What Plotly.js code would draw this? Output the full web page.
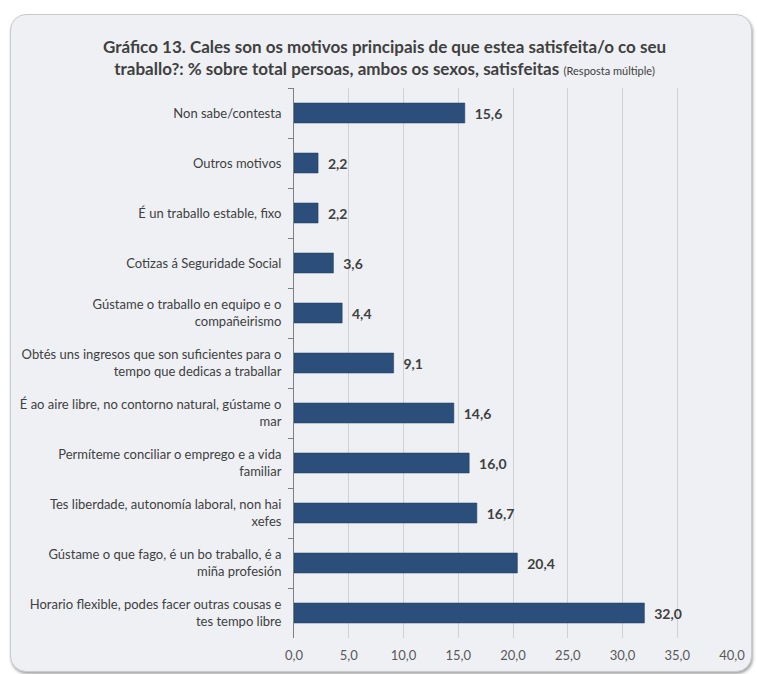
<!DOCTYPE html>
<html>
<head>
<meta charset="utf-8">
<script src="https://cdn.plot.ly/plotly-3.0.1.min.js"></script>
<style>
  html, body { margin: 0; padding: 0; background: #ffffff; }
  #frame { position: absolute; left: 10px; top: 14px; width: 740px; height: 656px;
           border-radius: 16px; background: #eef0f4; border: 1px solid #c9cbcf;
           box-shadow: 1px 2px 3px rgba(0,0,0,0.35); }
  #chart { position: absolute; left: 0; top: 0; width: 757px; height: 674px; }
</style>
</head>
<body>
<div id="frame"></div>
<div id="chart"></div>
<script>
const categories = [
  "Non sabe/contesta",
  "Outros motivos",
  "É un traballo estable, fixo",
  "Cotizas á Seguridade Social",
  "Gústame o traballo en equipo e o<br>compañeirismo",
  "Obtés uns ingresos que son suficientes para o<br>tempo que dedicas a traballar",
  "É ao aire libre, no contorno natural, gústame o<br>mar",
  "Permíteme conciliar o emprego e a vida<br>familiar",
  "Tes liberdade, autonomía laboral, non hai<br>xefes",
  "Gústame o que fago, é un bo traballo, é a<br>miña profesión",
  "Horario flexible, podes facer outras cousas e<br>tes tempo libre"
];
const values = [15.6, 2.2, 2.2, 3.6, 4.4, 9.1, 14.6, 16.0, 16.7, 20.4, 32.0];
const xTicks = [0, 5, 10, 15, 20, 25, 30, 35, 40];

const trace = {
  type: 'bar',
  orientation: 'h',
  y: categories,
  x: values,
  marker: { color: '#2b4f7a', line: { color: '#1f3d63', width: 0.5 } },
  text: values.map(v => v.toFixed(1).replace('.', ',')),
  texttemplate: '  %{text}',
  textposition: 'outside',
  cliponaxis: false,
  textfont: { family: 'Lato, sans-serif', size: 14, color: '#404040', weight: 'bold' },
  hoverinfo: 'skip'
};

const layout = {
  width: 757, height: 674,
  paper_bgcolor: 'rgba(0,0,0,0)',
  plot_bgcolor: 'rgba(0,0,0,0)',
  separators: ',.',
  margin: { l: 294, r: 25, t: 88, b: 36 },
  bargap: 0.6,
  showlegend: false,
  font: { family: 'Lato, sans-serif', color: '#404040' },
  title: {
    text: '<b>Gráfico 13. Cales son os motivos principais de que estea satisfeita/o co seu</b><br><b>traballo?: % sobre total persoas, ambos os sexos, satisfeitas</b> <span style="font-size:11px">(Resposta múltiple)</span>',
    x: 0.508, xref: 'container', xanchor: 'center',
    y: 0.921, yref: 'container', yanchor: 'top',
    font: { family: 'Lato, sans-serif', size: 17, color: '#404040' }
  },
  xaxis: {
    range: [0, 40],
    tickvals: xTicks,
    tickformat: '.1f',
    showgrid: true, gridcolor: '#cfd1d4', gridwidth: 1,
    zeroline: false, showline: false,
    ticks: '',
    ticklabelstandoff: 8,
    tickfont: { family: 'Lato, sans-serif', size: 13, color: '#595959' },
    fixedrange: true
  },
  yaxis: {
    type: 'category',
    autorange: 'reversed',
    showline: true, linecolor: '#7f7f7f', linewidth: 1,
    ticks: 'outside', ticklen: 5, tickcolor: '#7f7f7f',
    tickson: 'boundaries',
    showgrid: false,
    ticklabelstandoff: 9,
    tickfont: { family: 'Lato, sans-serif', size: 13, color: '#404040' },
    fixedrange: true
  }
};

Plotly.newPlot('chart', [trace], layout, { displayModeBar: false, staticPlot: true });
</script>
</body>
</html>
